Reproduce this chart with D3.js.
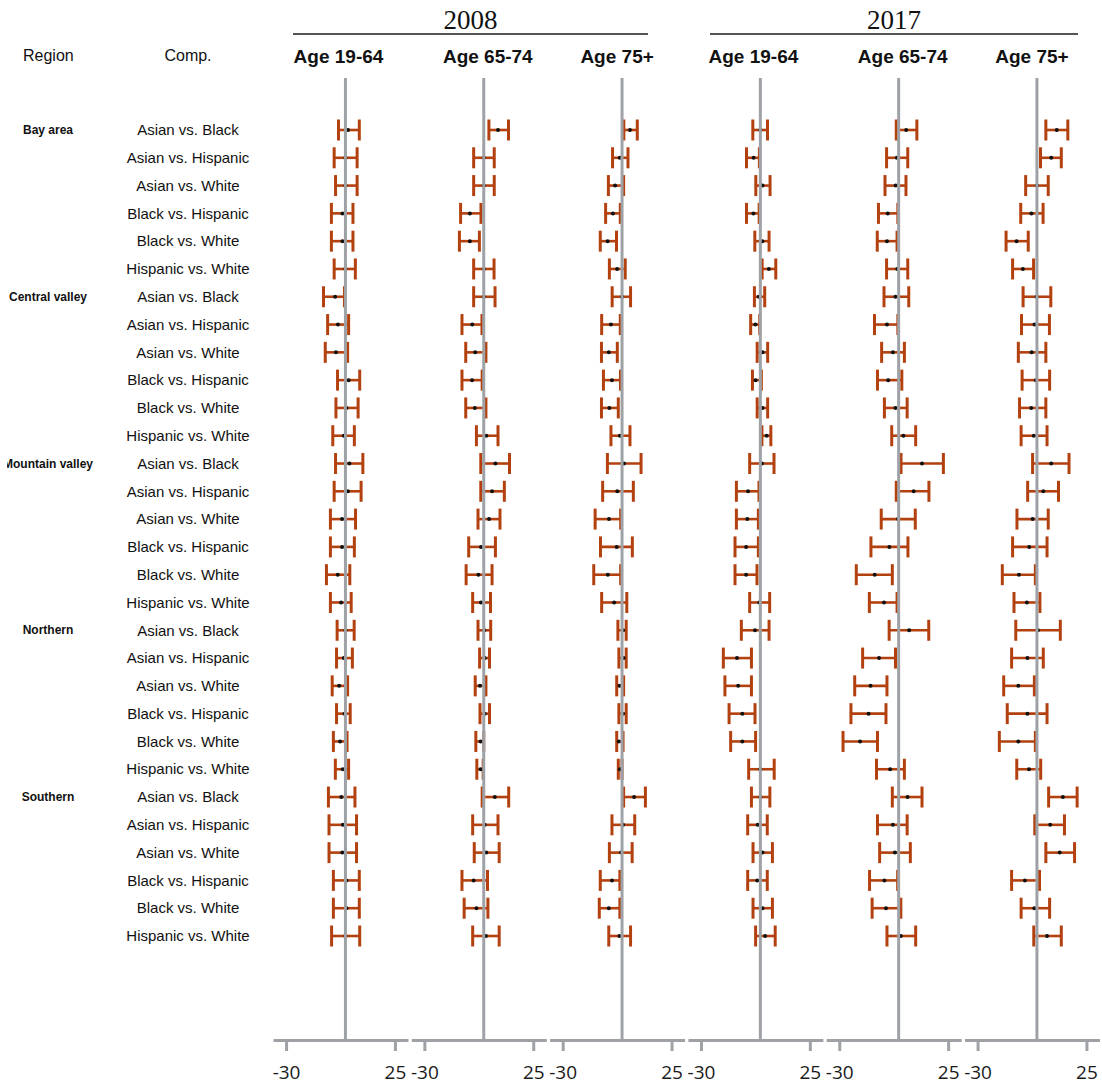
<!DOCTYPE html>
<html>
<head>
<meta charset="utf-8">
<script src="https://cdn.jsdelivr.net/npm/d3@7"></script>
<style>
  body { margin: 0; background: #fff; }
</style>
</head>
<body>
<div id="chart"></div>
<script>
// rows of the forest plot
const regions = ["Bay area", "Central valley", "Mountain valley", "Northern", "Southern"];
const comps = ["Asian vs. Black", "Asian vs. Hispanic", "Asian vs. White",
               "Black vs. Hispanic", "Black vs. White", "Hispanic vs. White"];
const years = ["2008", "2017"];
const ages = ["Age 19-64", "Age 65-74", "Age 75+"];
const tickVals = [-30, 25];

// [estimate, lower, upper] per row
const d2008_19_64 = [
  [1.3,-3.5,7.0],[0,-5.7,5.9],[0,-5.0,5.9],[-1.5,-7.1,3.8],[-1.5,-7.1,3.8],[0,-5.7,5.0],
  [-5.2,-11.1,-0.5],[-3.8,-9.0,1.6],[-4.8,-10.2,1.1],[1.6,-4.0,7.2],[0.5,-4.8,6.4],[-0.8,-6.4,4.5],
  [2.0,-5.0,8.8],[1.2,-5.7,7.9],[-1.7,-7.6,5.1],[-1.7,-7.6,4.5],[-3.9,-9.6,2.2],[-2.2,-7.6,2.9],
  [0,-4.2,4.4],[-0.8,-4.5,3.5],[-3.2,-6.7,1.1],[-0.5,-4.5,2.4],[-2.7,-6.1,0.8],[-1.3,-5.1,1.6],
  [-2.1,-8.6,4.8],[-1.3,-8.3,5.6],[-1.6,-8.3,5.6],[0.5,-6.1,7.0],[0.5,-6.1,7.0],[0,-7.0,7.2]
];
const d2008_65_74 = [
  [7.2,2.6,12.5],[0,-5.1,5.3],[0,-5.1,5.3],[-7.0,-11.7,-1.4],[-7.0,-12.3,-2.2],[0,-5.1,5.2],
  [0,-5.1,5.7],[-5.8,-11.0,-0.9],[-4.3,-9.1,1.1],[-5.9,-11.0,-0.8],[-4.5,-9.1,1.1],[1.3,-3.7,7.2],
  [5.9,-1.5,13.0],[4.2,-1.5,10.4],[2.7,-2.9,8.2],[-1.4,-7.6,5.9],[-2.7,-8.9,4.2],[-1.4,-5.6,3.4],
  [0.3,-2.9,3.5],[0.5,-2.1,2.9],[-1.9,-4.3,1.1],[0.5,-1.9,2.9],[-1.6,-4.0,0],[-1.6,-3.5,-0.3],
  [5.6,-0.8,12.6],[0.5,-5.6,7.2],[1.3,-4.8,7.8],[-5.1,-11.0,1.9],[-3.7,-9.9,2.1],[1.1,-5.6,7.8]
];
const d2008_75 = [
  [4.0,0.9,7.7],[-1.2,-4.8,3.0],[-3.5,-6.9,0.8],[-4.6,-8.3,-0.9],[-7.3,-11.0,-2.8],[-2.5,-6.4,1.6],
  [0,-5.0,4.3],[-5.6,-10.3,-0.9],[-6.7,-10.4,-2.4],[-5.1,-9.4,-0.8],[-6.4,-10.4,-1.9],[-1.1,-5.6,4.0],
  [1.0,-7.4,9.6],[-2.4,-9.8,5.7],[-6.6,-13.6,-0.7],[-2.7,-10.9,5.2],[-7.2,-14.3,-0.7],[-4.0,-10.3,2.4],
  [0.5,-2.1,2.1],[0.8,-1.6,2.1],[-1.3,-2.7,0.8],[0.5,-1.6,2.1],[-1.6,-2.7,0.5],[-1.1,-1.9,0],
  [6.1,0.8,11.8],[0.5,-5.1,6.4],[-0.5,-6.4,5.1],[-5.1,-11.0,-1.1],[-6.7,-11.5,-1.1],[-1.3,-6.7,4.3]
];
const d2017_19_64 = [
  [0,-3.8,3.6],[-3.4,-7.0,-0.5],[1.1,-2.3,4.9],[-3.5,-7.0,-0.6],[1.0,-2.8,4.4],[4.3,0.9,7.8],
  [-0.8,-3.0,2.2],[-2.5,-4.9,-0.3],[1.1,-1.6,3.7],[-2.4,-4.0,0.5],[1.1,-1.6,3.7],[3.2,0.8,5.3],
  [0.8,-5.4,6.9],[-6.2,-12.1,-0.7],[-6.6,-12.1,-1.0],[-7.2,-12.8,-1.0],[-7.2,-12.8,-1.7],[-0.5,-5.4,4.7],
  [-2.7,-9.6,4.4],[-11.8,-18.7,-4.5],[-11.2,-17.9,-4.5],[-9.1,-15.8,-2.7],[-9.1,-15.0,-2.4],[0,-5.9,7.0],
  [0,-4.5,4.8],[-1.3,-6.4,3.5],[1.1,-3.7,6.1],[-1.6,-6.4,3.5],[1.1,-3.7,6.1],[2.4,-2.4,7.5]
];
const d2017_65_74 = [
  [3.8,-1.2,9.2],[-0.9,-6.1,4.6],[-1.5,-6.9,3.7],[-5.5,-10.2,-0.4],[-5.9,-10.8,-0.8],[-0.7,-6.1,4.6],
  [-1.6,-7.4,5.1],[-5.9,-12.2,-0.4],[-2.9,-8.6,2.9],[-5.3,-10.7,1.6],[-1.6,-7.2,4.3],[2.4,-3.5,8.6],
  [11.8,1.2,22.6],[7.6,-1.2,15.3],[-0.3,-8.8,8.4],[-4.7,-14.0,4.7],[-12.1,-21.4,-3.2],[-7.4,-14.8,-0.8],
  [5.3,-4.8,15.2],[-9.9,-18.2,-1.6],[-14.2,-22.2,-5.9],[-15.2,-24.1,-6.4],[-19.5,-28.1,-10.7],[-4.3,-11.2,2.9],
  [4.5,-3.2,11.8],[-2.9,-10.7,4.3],[-1.9,-9.6,5.9],[-7.2,-14.7,-0.5],[-6.4,-13.4,1.1],[1.1,-5.9,8.6]
];
const d2017_75 = [
  [10.0,4.5,15.6],[7.2,1.8,12.3],[0,-5.7,5.7],[-2.8,-8.2,3.1],[-10.3,-15.6,-4.4],[-7.1,-12.3,-1.7],
  [-0.2,-7.0,7.0],[-1.2,-7.8,6.3],[-2.7,-9.4,4.5],[-0.5,-7.5,6.4],[-2.9,-8.8,4.5],[-1.6,-8.0,5.1],
  [7.2,-2.2,16.2],[3.2,-4.7,10.9],[-2.2,-10.1,5.7],[-3.9,-12.3,5.1],[-9.1,-17.5,-0.8],[-5.1,-11.6,1.5],
  [0.5,-10.7,11.8],[-4.8,-12.8,3.2],[-9.4,-16.8,-1.3],[-4.8,-15.0,5.1],[-9.4,-19.0,-0.8],[-4.0,-10.2,1.9],
  [13.1,5.9,20.3],[6.7,-1.1,13.9],[11.5,4.5,19.0],[-6.1,-12.8,1.3],[-1.3,-8.0,6.4],[5.1,-1.6,12.3]
];

const panels = [
  {year: years[0], age: ages[0], data: d2008_19_64},
  {year: years[0], age: ages[1], data: d2008_65_74},
  {year: years[0], age: ages[2], data: d2008_75},
  {year: years[1], age: ages[0], data: d2017_19_64},
  {year: years[1], age: ages[1], data: d2017_65_74},
  {year: years[1], age: ages[2], data: d2017_75}
];

var W = 1102, H = 1084;
var panelLeft = 273, panelStep = 138.3, panelW = 135;
var refTop = 78, axisY = 1040;
var barColor = "#b3410f", refColor = "#9ea2a6";

var svg = d3.select("#chart").append("svg")
  .attr("width", W).attr("height", H)
  .style("font-family", "'Liberation Sans', Arial, sans-serif");

var rows = regions.flatMap(function(r) { return comps.map(function(c) { return {region: r, comp: c}; }); });

var y = d3.scalePoint()
  .domain(d3.range(rows.length))
  .range([130, 936]);

var x = d3.scaleLinear().domain([-36.6, 31.6]).range([0, panelW]);

// column headers
svg.append("text").attr("x", 23).attr("y", 61)
  .style("font-size", "16px").attr("fill", "#111").text("Region");
svg.append("text").attr("x", 188).attr("y", 61).attr("text-anchor", "middle")
  .style("font-size", "16px").attr("fill", "#111").text("Comp.");

// region labels (clipped on the left like the original)
svg.append("clipPath").attr("id", "leftclip")
  .append("rect").attr("x", 7).attr("y", 0).attr("width", 200).attr("height", H);

svg.append("g").attr("clip-path", "url(#leftclip)")
  .selectAll("text.region")
  .data(regions)
  .enter().append("text")
    .attr("class", "region")
    .attr("x", 48)
    .attr("y", function(d, i) { return y(i * comps.length); })
    .attr("dy", "0.35em")
    .attr("text-anchor", "middle")
    .style("font-size", "12px").style("font-weight", "bold")
    .attr("fill", "#111")
    .text(function(d) { return d; });

// comparison labels
svg.selectAll("text.comp")
  .data(rows)
  .enter().append("text")
    .attr("class", "comp")
    .attr("x", 188)
    .attr("y", function(d, i) { return y(i); })
    .attr("dy", "0.35em")
    .attr("text-anchor", "middle")
    .style("font-size", "15px")
    .attr("fill", "#111")
    .text(function(d) { return d.comp; });

// year headers
var yearLines = [[293, 648], [710, 1078]];
years.forEach(function(yr, k) {
  var l = yearLines[k];
  svg.append("line")
    .attr("x1", l[0]).attr("x2", l[1]).attr("y1", 34).attr("y2", 34)
    .attr("stroke", "#555").attr("stroke-width", 2);
  svg.append("text")
    .attr("x", (l[0] + l[1]) / 2).attr("y", 29)
    .attr("text-anchor", "middle")
    .style("font-family", "'Liberation Serif', 'Times New Roman', serif")
    .style("font-size", "27px")
    .attr("fill", "#111")
    .text(yr);
});

var ageShift = [-2, 9, 0];

panels.forEach(function(p, i) {
  var g = svg.append("g")
    .attr("transform", "translate(" + (panelLeft + i * panelStep) + ",0)");

  g.append("text")
    .attr("x", panelW / 2 + ageShift[i % 3]).attr("y", 63)
    .attr("text-anchor", "middle")
    .style("font-size", "19px").style("font-weight", "bold")
    .attr("fill", "#111")
    .text(p.age);

  // horizontal interval
  g.selectAll("line.ci")
    .data(p.data)
    .enter().append("line")
      .attr("class", "ci")
      .attr("x1", function(d) { return x(d[1]); })
      .attr("x2", function(d) { return x(d[2]); })
      .attr("y1", function(d, j) { return y(j); })
      .attr("y2", function(d, j) { return y(j); })
      .attr("stroke", barColor).attr("stroke-width", 2.6);

  // caps
  [1, 2].forEach(function(k) {
    g.selectAll("line.cap" + k)
      .data(p.data)
      .enter().append("line")
        .attr("class", "cap" + k)
        .attr("x1", function(d) { return x(d[k]); })
        .attr("x2", function(d) { return x(d[k]); })
        .attr("y1", function(d, j) { return y(j) - 10.5; })
        .attr("y2", function(d, j) { return y(j) + 10.5; })
        .attr("stroke", barColor).attr("stroke-width", 3);
  });

  // estimates
  g.selectAll("circle.est")
    .data(p.data)
    .enter().append("circle")
      .attr("class", "est")
      .attr("cx", function(d) { return x(d[0]); })
      .attr("cy", function(d, j) { return y(j); })
      .attr("r", 2)
      .attr("fill", "#111");

  // reference line at 0
  g.append("line")
    .attr("x1", x(0)).attr("x2", x(0))
    .attr("y1", refTop).attr("y2", axisY)
    .attr("stroke", refColor).attr("stroke-width", 3);

  // axis
  var ax = g.append("g")
    .attr("transform", "translate(0," + axisY + ")")
    .call(d3.axisBottom(x).tickValues(tickVals).tickSize(11).tickSizeOuter(0).tickFormat(d3.format("d")));
  ax.select(".domain").attr("stroke", refColor).attr("stroke-width", 3);
  ax.selectAll(".tick line").attr("stroke", refColor).attr("stroke-width", 3);
  ax.selectAll(".tick text")
    .attr("y", 26)
    .attr("fill", "#1a1a1a")
    .style("font-family", "'Open Sans', sans-serif")
    .style("font-size", "19px")
    .text(function(d) { return d < 0 ? "-" + Math.abs(d) : d; });
});
</script>
</body>
</html>
